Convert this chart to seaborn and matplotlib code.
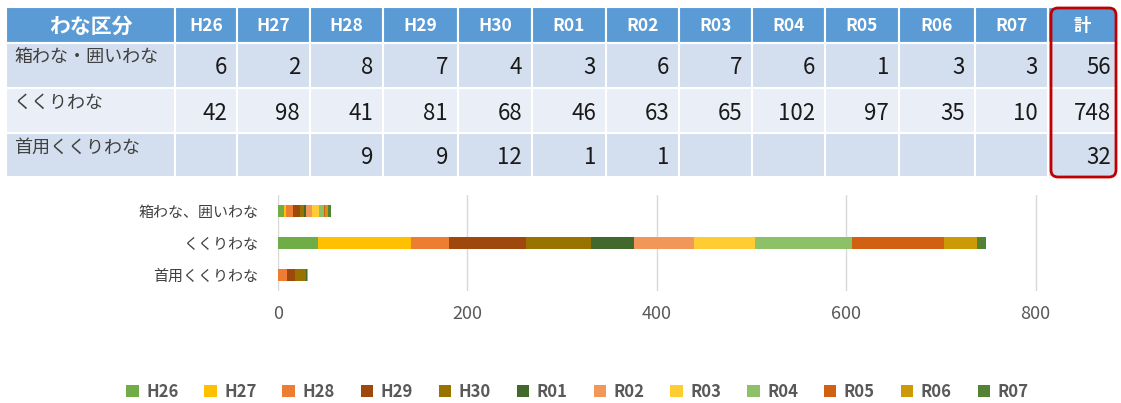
import numpy as np
import pandas as pd
import seaborn as sns
import matplotlib.pyplot as plt
from matplotlib.patches import Rectangle, FancyBboxPatch, Patch

# data
years = ['H26', 'H27', 'H28', 'H29', 'H30', 'R01', 'R02', 'R03', 'R04', 'R05', 'R06', 'R07']
table_rows = ['箱わな・囲いわな', 'くくりわな', '首用くくりわな']
chart_rows = ['箱わな、囲いわな', 'くくりわな', '首用くくりわな']
hako = [6, 2, 8, 7, 4, 3, 6, 7, 6, 1, 3, 3]
kukuri = [42, 98, 41, 81, 68, 46, 63, 65, 102, 97, 35, 10]
kubi = [None, None, 9, 9, 12, 1, 1, None, None, None, None, None]
colors = ['#70AD47', '#FFC000', '#ED7D31', '#9E480E', '#997300', '#43682B',
          '#F1975A', '#FFCD33', '#8CC168', '#D26012', '#CC9A06', '#548235']

df = pd.DataFrame([hako, kukuri, kubi], columns=years, index=chart_rows).astype(float)
totals = df.sum(axis=1).astype(int)

sns.set_theme(style='white')
plt.rcParams['font.family'] = ['Noto Sans CJK JP', 'DejaVu Sans']

W, H = 1121, 403
fig = plt.figure(figsize=(W / 100, H / 100), dpi=100)

# ---- table on top (pixel coordinates) ----
tax = fig.add_axes([0, 0, 1, 1])
tax.set_xlim(0, W)
tax.set_ylim(H, 0)
tax.axis('off')

col_edges = [6, 175, 237, 310, 383, 458, 532, 606, 679, 752, 825, 899, 975, 1048, 1116]
row_edges = [7, 43, 88, 133, 177]
header = ['わな区分'] + years + ['計']
body_colors = ['#D3DEEF', '#EAEFF7', '#D3DEEF']

for c in range(len(header)):
    x0, x1 = col_edges[c], col_edges[c + 1]
    tax.add_patch(Rectangle((x0, row_edges[0]), x1 - x0, row_edges[1] - row_edges[0],
                            facecolor='#5B9BD5', edgecolor='white', lw=1.5))
    tax.text((x0 + x1) / 2, (row_edges[0] + row_edges[1]) / 2 + 1, header[c],
             ha='center', va='center', color='white', fontweight='bold',
             fontsize=15 if c == 0 else 12.5)

for r, name in enumerate(table_rows):
    y0, y1 = row_edges[r + 1], row_edges[r + 2]
    for c in range(len(header)):
        x0, x1 = col_edges[c], col_edges[c + 1]
        tax.add_patch(Rectangle((x0, y0), x1 - x0, y1 - y0,
                                facecolor=body_colors[r], edgecolor='white', lw=1.5))
    tax.text(14, y0 + 15, name, ha='left', va='center', fontsize=13, color='#404040')
    vals = df.iloc[r].tolist() + [totals.iloc[r]]
    for c, v in enumerate(vals):
        if pd.isna(v):
            continue
        x1 = col_edges[c + 2]
        pad = 5 if c == len(vals) - 1 else 10
        tax.text(x1 - pad, y0 + 25, f'{int(v)}', ha='right', va='center',
                 fontsize=16, color='#1A1A1A')

tax.add_patch(FancyBboxPatch((1051, 8), 65, 169, boxstyle='round,pad=0,rounding_size=7',
                             facecolor='none', edgecolor='#C00000', lw=2))

# ---- stacked horizontal bars ----
ax = fig.add_axes([278 / W, 1 - 291 / H, (1064 - 278) / W, 96 / H])
left = np.zeros(len(chart_rows))
for i, yr in enumerate(years):
    vals = df[yr].fillna(0).values
    sns.barplot(x=vals, y=chart_rows, orient='h', color=colors[i], saturation=1,
                width=0.4, left=left, errorbar=None, linewidth=0, ax=ax)
    left += vals

ax.set_xlim(0, 830)
ax.set_ylim(2.5, -0.5)
ax.set_xticks([0, 200, 400, 600, 800])
ax.grid(axis='x', color='#D9D9D9', lw=1)
ax.set_axisbelow(True)
sns.despine(ax=ax, left=True, bottom=True)
ax.tick_params(axis='x', length=0, pad=10, labelsize=13, labelcolor='#595959')
ax.tick_params(axis='y', length=0, pad=14, labelsize=10.8, labelcolor='#404040')
ax.set_xlabel('')
ax.set_ylabel('')

handles = [Patch(facecolor=c, linewidth=0) for c in colors]
leg = fig.legend(handles, years, loc='center', bbox_to_anchor=(0.515, 1 - 392 / H), ncol=12,
                 frameon=False, handlelength=0.75, handleheight=0.75, handletextpad=0.45,
                 columnspacing=1.55, prop={'size': 12, 'weight': 'bold'})
for t in leg.get_texts():
    t.set_color('#595959')

fig.savefig('out.png', dpi=100)
